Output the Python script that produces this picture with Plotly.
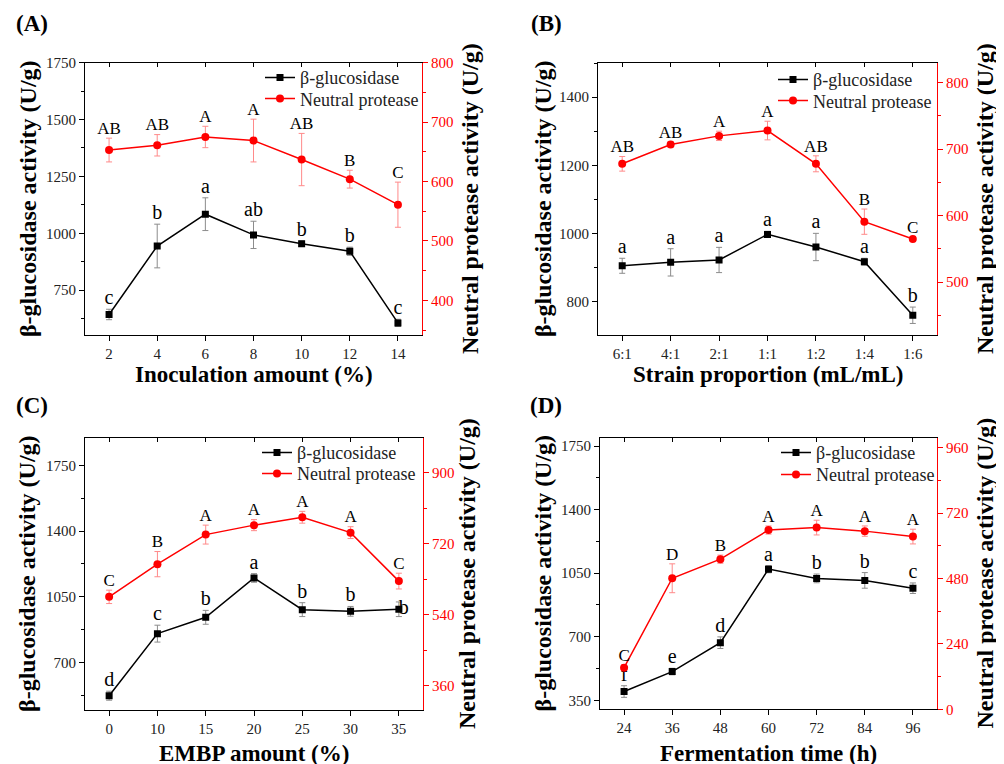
import plotly.graph_objects as go

# ---------------- data ----------------
A_x = [2, 4, 6, 8, 10, 12, 14]
A_bg = [643, 944, 1084, 993, 954, 921, 606]
A_bg_err = [23, 96, 72, 60, 12, 18, 16]
A_np = [653, 661, 675, 669, 637, 604, 561]
A_np_err = [20, 18, 18, 36, 44, 15, 38]
A_bg_let = ["c", "b", "a", "ab", "b", "b", "c"]
A_np_let = ["AB", "AB", "A", "A", "AB", "B", "C"]

B_x = ["6:1", "4:1", "2:1", "1:1", "1:2", "1:4", "1:6"]
B_bg = [906, 916, 923, 998, 961, 918, 761]
B_bg_err = [22, 40, 37, 9, 40, 10, 24]
B_np = [678, 707, 720, 728, 678, 591, 565]
B_np_err = [11, 4, 7, 14, 12, 19, 3]
B_bg_let = ["a", "a", "a", "a", "a", "a", "b"]
B_np_let = ["AB", "AB", "A", "A", "AB", "B", "C"]

C_x = ["0", "10", "15", "20", "25", "30", "35"]
C_bg = [522, 853, 940, 1150, 981, 972, 983]
C_bg_err = [24, 45, 37, 23, 37, 26, 39]
C_np = [585, 668, 743, 767, 787, 748, 625]
C_np_err = [17, 32, 24, 14, 15, 15, 20]
C_bg_let = ["d", "c", "b", "a", "b", "b", "b"]
C_np_let = ["C", "B", "A", "A", "A", "A", "C"]

D_x = [24, 36, 48, 60, 72, 84, 96]
D_bg = [398, 508, 667, 1072, 1021, 1010, 967]
D_bg_err = [32, 18, 32, 20, 24, 43, 29]
D_np = [153, 481, 551, 658, 667, 654, 634]
D_np_err = [10, 53, 15, 15, 27, 19, 27]
D_bg_let = ["f", "e", "d", "a", "b", "b", "c"]
D_np_let = ["C", "D", "B", "A", "A", "A", "A"]

x_titles = ["Inoculation amount (%)", "Strain proportion (mL/mL)",
            "EMBP amount (%)", "Fermentation time (h)"]
panel_labels = ["(A)", "(B)", "(C)", "(D)"]
left_title = "β-glucosidase activity (U/g)"
right_title = "Neutral protease activity (U/g)"
series_names = ["β-glucosidase", "Neutral protease"]

# ---------------- layout geometry (pixels of the target picture) ----------------
W, H = 1004, 764
FONT = "Liberation Serif"
RED = "#ff0000"


def px(x):
    return (x - 8) / W


def py(y):
    return 1 - ((y - 16.4) / 0.9766) / H


panels = [
    dict(x=A_x, bg=A_bg, bge=A_bg_err, np_=A_np, npe=A_np_err, bl=A_bg_let, nl=A_np_let,
         box=(85, 422, 63, 335), xr=[1, 15], xdt=2, yr=[551, 1750], ydt=250,
         y2r=[341, 800], y2dt=100, cat=False, lt_x=28, rt_x=470, xt_y=374, lab=(32, 24),
         last_right=False, leg_x=302, leg_y=(78, 99)),
    dict(x=B_x, bg=B_bg, bge=B_bg_err, np_=B_np, npe=B_np_err, bl=B_bg_let, nl=B_np_let,
         box=(598, 937, 63, 335), xr=[-0.5, 6.5], xdt=None, yr=[702, 1501], ydt=200,
         y2r=[420, 830], y2dt=100, cat=True, lt_x=543, rt_x=985, xt_y=374, lab=(546, 24),
         last_right=False, leg_x=815, leg_y=(80, 101)),
    dict(x=C_x, bg=C_bg, bge=C_bg_err, np_=C_np, npe=C_np_err, bl=C_bg_let, nl=C_np_let,
         box=(85, 423, 437, 709), xr=[-0.5, 6.5], xdt=None, yr=[444, 1898], ydt=350,
         y2r=[297, 989], y2dt=180, cat=True, lt_x=27, rt_x=467, xt_y=752, lab=(32, 405),
         last_right=True, leg_x=299, leg_y=(452, 473)),
    dict(x=D_x, bg=D_bg, bge=D_bg_err, np_=D_np, npe=D_np_err, bl=D_bg_let, nl=D_np_let,
         box=(600, 937, 437, 708), xr=[18, 102], xdt=12, yr=[300, 1796], ydt=350,
         y2r=[0, 997], y2dt=240, cat=False, lt_x=543, rt_x=985, xt_y=752, lab=(546, 405),
         last_right=False, leg_x=818, leg_y=(452, 474)),
]

fig = go.Figure()
layout = dict(width=W, height=H, autosize=False, margin=dict(l=0, r=0, t=0, b=0),
              paper_bgcolor="white", plot_bgcolor="white", showlegend=True,
              font=dict(family=FONT, size=15, color="#222"))
annotations = []

for i, p in enumerate(panels):
    k = i + 1
    xa = "x" if k == 1 else f"x{k}"
    ya_l = "y" if k == 1 else f"y{2*k-1}"
    ya_r = f"y{2*k}"
    xa_top = f"x{k+4}"
    leg_b = "legend" if k == 1 else f"legend{2*k-1}"
    leg_r = f"legend{2*k}"
    l, r, t, b = p["box"]
    xd = [px(l), px(r)]
    yd = [py(b), py(t)]

    # black series
    fig.add_trace(go.Scatter(
        x=p["x"], y=p["bg"], name=series_names[0], mode="lines+markers",
        line=dict(color="black", width=1.5),
        marker=dict(symbol="square", size=7, color="black"),
        error_y=dict(type="data", array=p["bge"], visible=True, color="#8c8c8c",
                     thickness=1, width=3),
        xaxis=xa, yaxis=ya_l, legend=leg_b, hoverinfo="skip"))
    # red series
    fig.add_trace(go.Scatter(
        x=p["x"], y=p["np_"], name=series_names[1], mode="lines+markers",
        line=dict(color=RED, width=1.5),
        marker=dict(symbol="circle", size=8, color=RED),
        error_y=dict(type="data", array=p["npe"], visible=True, color="#ff8a8a",
                     thickness=1, width=3),
        xaxis=xa, yaxis=ya_r, legend=leg_r, hoverinfo="skip"))

    # significance letters (black series)
    pos_b = ["top center"] * len(p["x"])
    ytxt_b = [v + e for v, e in zip(p["bg"], p["bge"])]
    if p["last_right"]:
        pos_b[-1] = "middle right"
        ytxt_b[-1] = p["bg"][-1]
    fig.add_trace(go.Scatter(
        x=p["x"], y=ytxt_b, text=p["bl"], mode="text", textposition=pos_b,
        textfont=dict(family=FONT, size=20, color="black"),
        xaxis=xa, yaxis=ya_l, showlegend=False, hoverinfo="skip"))
    # significance letters (red series)
    ytxt_r = [v + e for v, e in zip(p["np_"], p["npe"])]
    fig.add_trace(go.Scatter(
        x=p["x"], y=ytxt_r, text=p["nl"], mode="text", textposition="top center",
        textfont=dict(family=FONT, size=17, color="black"),
        xaxis=xa, yaxis=ya_r, showlegend=False, hoverinfo="skip"))
    # invisible trace so the top (mirror) axis knows the categories
    fig.add_trace(go.Scatter(
        x=p["x"], y=p["bg"], mode="markers", marker=dict(opacity=0),
        xaxis=xa_top, yaxis=ya_l, showlegend=False, hoverinfo="skip"))

    xkey = "xaxis" if k == 1 else f"xaxis{k}"
    xaxis = dict(domain=xd, range=p["xr"], anchor=ya_l, showline=True, linecolor="black",
                 linewidth=1, ticks="outside", ticklen=5, tickcolor="black",
                 showgrid=False, zeroline=False,
                 tickfont=dict(family=FONT, size=15, color="#222"))
    if p["cat"]:
        xaxis["type"] = "category"
    else:
        xaxis["dtick"] = p["xdt"]
        xaxis["tick0"] = 0
    layout[xkey] = xaxis

    xtop = dict(domain=xd, range=p["xr"], anchor=ya_l, overlaying=xa, side="top",
                showline=True, linecolor="black", linewidth=1, ticks="inside", ticklen=4,
                tickcolor="black", showticklabels=False, showgrid=False, zeroline=False)
    if p["cat"]:
        xtop["type"] = "category"
    else:
        xtop["dtick"] = p["xdt"]
        xtop["tick0"] = 0
    layout[f"xaxis{k+4}"] = xtop

    ylkey = "yaxis" if k == 1 else f"yaxis{2*k-1}"
    layout[ylkey] = dict(domain=yd, range=p["yr"], anchor=xa, dtick=p["ydt"], tick0=0,
                         showline=True, linecolor="black", linewidth=1, ticks="outside",
                         ticklen=5, tickcolor="black", showgrid=False, zeroline=False,
                         minor=dict(dtick=p["ydt"] / 2, ticks="outside", ticklen=3,
                                    tickcolor="black", showgrid=False),
                         tickfont=dict(family=FONT, size=15, color="#222"))
    layout[f"yaxis{2*k}"] = dict(domain=yd, range=p["y2r"], anchor=xa, overlaying=ya_l,
                                 side="right", dtick=p["y2dt"], tick0=0,
                                 showline=True, linecolor=RED, linewidth=1, ticks="outside",
                                 ticklen=5, tickcolor=RED, showgrid=False, zeroline=False,
                                 minor=dict(dtick=p["y2dt"] / 2, ticks="outside", ticklen=3,
                                            tickcolor=RED, showgrid=False),
                                 tickfont=dict(family=FONT, size=15, color=RED))

    for lg, ly in zip([leg_b, leg_r], p["leg_y"]):
        layout[lg] = dict(x=px(p["leg_x"] - 42), y=py(ly), xanchor="left", yanchor="middle",
                          bgcolor="rgba(0,0,0,0)", borderwidth=0, tracegroupgap=0,
                          font=dict(family=FONT, size=18, color="#222"), itemwidth=30)

    cy = py((t + b) / 2)
    annotations.append(dict(text=left_title, x=px(p["lt_x"]), y=cy, xref="paper",
                            yref="paper", showarrow=False, textangle=-90,
                            xanchor="center", yanchor="middle",
                            font=dict(family=FONT, size=24, color="black", weight="bold")))
    annotations.append(dict(text=right_title, x=px(p["rt_x"]), y=cy, xref="paper",
                            yref="paper", showarrow=False, textangle=-90,
                            xanchor="center", yanchor="middle",
                            font=dict(family=FONT, size=24, color="black", weight="bold")))
    annotations.append(dict(text=x_titles[i], x=px((l + r) / 2), y=py(p["xt_y"]),
                            xref="paper", yref="paper", showarrow=False,
                            xanchor="center", yanchor="middle",
                            font=dict(family=FONT, size=23, color="black", weight="bold")))
    annotations.append(dict(text=panel_labels[i], x=px(p["lab"][0]), y=py(p["lab"][1]),
                            xref="paper", yref="paper", showarrow=False,
                            xanchor="center", yanchor="middle",
                            font=dict(family=FONT, size=23, color="black", weight="bold")))

layout["annotations"] = annotations
fig.update_layout(**layout)
fig.write_html("out.html")
